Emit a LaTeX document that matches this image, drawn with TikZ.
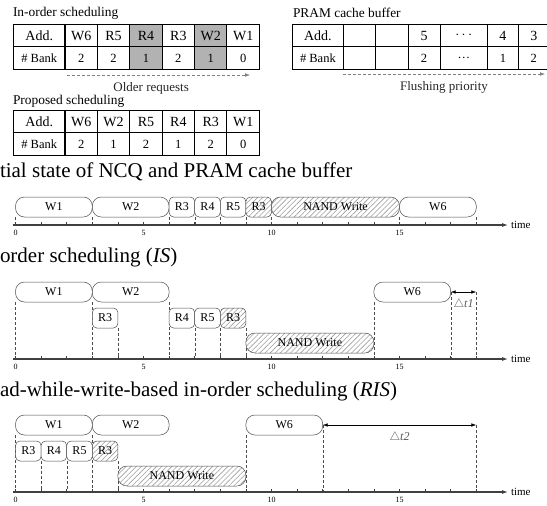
\documentclass[tikz,border=0pt]{standalone}
\usepackage{fontspec}
\setmainfont{Liberation Serif}
\usetikzlibrary{matrix,arrows.meta,patterns.meta,backgrounds}
\def\fsz#1{\fontsize{#1}{#1}\selectfont}

\begin{document}
\begin{tikzpicture}[x=1pt, y=-1pt,
    every node/.style = {inner sep=0pt, outer sep=0pt},
    caption/.style = {anchor=west, font=\fsz{13.4}},
    title/.style = {anchor=west, font=\fsz{21}},
    tbl/.style = {matrix of nodes, nodes in empty cells,
      row sep=-0.9pt, column sep=-0.9pt,
      nodes={draw, line width=0.9pt, minimum height=22.4pt,
        minimum width=32.4pt, anchor=center},
      row 1/.style={nodes={font=\fsz{14}}},
      row 2/.style={nodes={font=\fsz{12.5}}},
      column 1/.style={nodes={minimum width=51.5pt}}},
    shade/.style = {fill=gray!60},
    flow/.style = {densely dashed, gray, line width=0.4pt,
      -{Latex[length=5pt,width=3.5pt]}},
    flowlabel/.style = {font=\fsz{13}, text=black!85},
    span/.style = {minimum width=#1*25.6pt},
    job/.style = {draw=black!70, fill=white, line width=0.5pt,
      rounded corners=4.5pt, minimum height=20pt, anchor=west,
      font=\fsz{12}},
    long/.style = {job, rounded corners=9pt},
    hatch/.style = {preaction={fill=white},
      pattern={Lines[angle=45,distance=3.6pt,line width=0.6pt]},
      pattern color=gray!75},
    guide/.style = {densely dashed, black!70, line width=0.4pt},
    axis/.style = {line width=1.1pt, black!75,
      -{Latex[length=6pt,width=4pt]}},
    tick/.style = {black!75, line width=0.6pt},
    delta/.style = {{Latex[length=5pt,width=3.5pt]}-{Latex[length=5pt,width=3.5pt]},
      line width=0.5pt},
    dlabel/.style = {font=\fsz{12}, text=black!65}]
  \useasboundingbox (0,0) rectangle (547,506);

  % queues on top
  \node[caption] (cap-in) at (13,13) {In-order scheduling};
  \matrix[tbl, anchor=north west] (ino) at (13,24) {
    Add. & W6 & R5 & |[shade]| R4 & R3 & |[shade]| W2 & W1 \\
    \# Bank & 2 & 2 & |[shade]| 1 & 2 & |[shade]| 1 & 0 \\
  };
  \coordinate (old-s) at (67,75);
  \coordinate (old-e) at (250,75);
  \draw[flow] (old-s) -- (old-e)
    node[pos=0.46, below=7pt, flowlabel] {Older requests};

  \node[caption] (cap-pram) at (293,13) {PRAM cache buffer};
  \matrix[tbl, anchor=north west,
    column 1/.style={nodes={minimum width=50.9pt}},
    column 4/.style={nodes={minimum width=31.9pt}},
    column 5/.style={nodes={minimum width=47.4pt}},
    column 6/.style={nodes={minimum width=30.9pt}},
    column 7/.style={nodes={minimum width=30.9pt}}] (pram) at (292,24) {
    Add. & & & 5 & $\cdots$ & 4 & 3 \\
    \# Bank & & & 2 & \ldots & 1 & 2 \\
  };
  \coordinate (fl-s) at (343,74);
  \coordinate (fl-e) at (545,74);
  \draw[flow] (fl-s) -- (fl-e)
    node[midway, below=7pt, flowlabel] {Flushing priority};

  \node[caption] (cap-pro) at (13,101) {Proposed scheduling};
  \matrix[tbl, anchor=north west] (pro) at (13,110) {
    Add. & W6 & W2 & R5 & R4 & R3 & W1 \\
    \# Bank & 2 & 1 & 2 & 1 & 2 & 0 \\
  };

  % timelines
  \node[title] (ttl-a) at (0,172) {tial state of NCQ and PRAM cache buffer};
  \node[title] (ttl-b) at (0,257) {order scheduling (\textit{IS})};
  \node[title] (ttl-c) at (0,391) {ad-while-write-based in-order scheduling (\textit{RIS})};

  \begin{scope}[xshift=15.5pt, x=25.6pt]
    \foreach \ay/\n in {225/a,359/b,492/c}{
      \coordinate (\n-axis) at (-0.1,\ay);
      \coordinate (\n-tip) at (19.24,\ay);
      \draw[axis] (\n-axis) -- (\n-tip)
        node[right=3pt, font=\fsz{11}, text=black] {time};
      \foreach \t in {0,...,18} \draw[tick] (\t,\ay) -- ++(0,-3);
      \foreach \t in {0,5,10,15} \node[font=\fsz{8}] at (\t,\ay+8) {\t};
    }

    % initial state
    \node[long, span=3] (a-w1) at (0,207) {W1};
    \node[long, span=3] (a-w2) at (3,207) {W2};
    \node[job, span=1] (a-r3) at (6,207) {R3};
    \node[job, span=1] (a-r4) at (7,207) {R4};
    \node[job, span=1] (a-r5) at (8,207) {R5};
    \node[job, hatch, span=1] (a-r3h) at (9,207) {R3};
    \node[long, hatch, span=5] (a-nand) at (10,207) {NAND Write};
    \node[long, span=3] (a-w6) at (15,207) {W6};

    % IS
    \node[long, span=3] (b-w1) at (0,292) {W1};
    \node[long, span=3] (b-w2) at (3,292) {W2};
    \node[job, span=1] (b-r3) at (3,318) {R3};
    \node[job, span=1] (b-r4) at (6,318) {R4};
    \node[job, span=1] (b-r5) at (7,318) {R5};
    \node[job, hatch, span=1] (b-r3h) at (8,318) {R3};
    \node[long, hatch, span=5] (b-nand) at (9,343) {NAND Write};
    \node[long, span=3] (b-w6) at (14,292) {W6};
    \coordinate (b-end) at (18,292);
    \draw[delta] (b-w6.east) -- (b-end)
      node[midway, below=7pt, dlabel] {$\triangle$\textit{t1}};

    % RIS
    \node[long, span=3] (c-w1) at (0,425) {W1};
    \node[long, span=3] (c-w2) at (3,425) {W2};
    \node[job, span=1] (c-r3) at (0,451) {R3};
    \node[job, span=1] (c-r4) at (1,451) {R4};
    \node[job, span=1] (c-r5) at (2,451) {R5};
    \node[job, hatch, span=1] (c-r3h) at (3,451) {R3};
    \node[long, hatch, span=5] (c-nand) at (4,476) {NAND Write};
    \node[long, span=3] (c-w6) at (9,425) {W6};
    \coordinate (c-end) at (18,425);
    \draw[delta] (c-w6.east) -- (c-end)
      node[midway, below=7pt, dlabel] {$\triangle$\textit{t2}};

    \begin{scope}[on background layer]
      \foreach \p in {a-w1.south west, a-w2.south west, a-r3.south west,
          a-r4.south west, a-r5.south west, a-r3h.south west,
          a-nand.south west, a-w6.south west, a-w6.south east}
        \draw[guide] (\p) -- (\p |- a-axis);
      \foreach \p in {b-w1.south west, b-w1.south east, b-r3.south east,
          b-w2.south east, b-r4.south east, b-r5.south east,
          b-r3h.south east, b-w6.south west, b-w6.east, b-end}
        \draw[guide] (\p) -- (\p |- b-axis);
      \foreach \p in {c-w1.south west, c-r3.south east, c-r4.south east,
          c-w1.south east, c-r3h.south east, c-w6.south west,
          c-w6.east, c-end}
        \draw[guide] (\p) -- (\p |- c-axis);
    \end{scope}
  \end{scope}
\end{tikzpicture}
\end{document}
